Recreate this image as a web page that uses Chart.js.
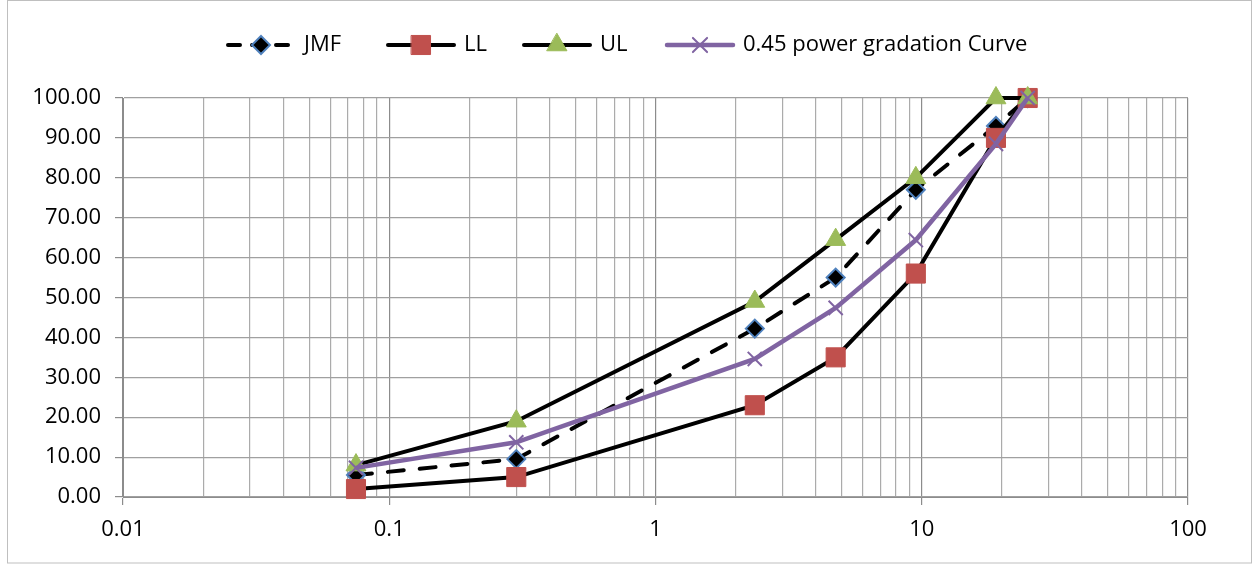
<!DOCTYPE html>
<html>
<head>
<meta charset="utf-8">
<script src="https://cdnjs.cloudflare.com/ajax/libs/Chart.js/4.4.1/chart.umd.min.js"></script>
<style>
  html, body { margin: 0; padding: 0; background: #fff; }
  #wrap { width: 1253px; height: 564px; position: relative; }
</style>
</head>
<body>
<div id="wrap"><canvas id="c"></canvas></div>
<script>
const sieveSizes = [0.075, 0.3, 2.36, 4.75, 9.5, 19, 25];
const jmf = [5.5, 9.5, 42.2, 55, 77, 93, 100];
const lowerLimit = [2, 5, 23, 35, 56, 90, 100];
const upperLimit = [8, 19, 49, 64.5, 80, 100, 100];
const powerCurve = [7.3, 13.7, 34.6, 47.4, 64.4, 88.5, 100];
const seriesNames = ["JMF", "LL", "UL", "0.45 power gradation Curve"];
const xMajorTicks = [0.01, 0.1, 1, 10, 100];
const yTicks = [0, 10, 20, 30, 40, 50, 60, 70, 80, 90, 100];

const FONT = "'Open Sans', 'Noto Sans', sans-serif";
const pts = ys => sieveSizes.map((x, i) => ({ x, y: ys[i] }));

const datasets = [
  { label: seriesNames[0], data: pts(jmf), borderColor: "#000", borderWidth: 4, borderDash: [16, 16],
    borderCapStyle: "round", pointStyle: "rectRot", pointRadius: 9, pointBackgroundColor: "#000",
    pointBorderColor: "#4F81BD", pointBorderWidth: 2, order: 4, clip: false },
  { label: seriesNames[1], data: pts(lowerLimit), borderColor: "#000", borderWidth: 4,
    pointStyle: "rect", pointRadius: 13.5, pointBackgroundColor: "#C0504D",
    pointBorderColor: "#C0504D", pointBorderWidth: 1, order: 3, clip: false },
  { label: seriesNames[2], data: pts(upperLimit), borderColor: "#000", borderWidth: 4,
    pointStyle: "triangle", pointRadius: 11.5, pointBackgroundColor: "#9BBB59",
    pointBorderColor: "#9BBB59", pointBorderWidth: 1, order: 2, clip: false },
  { label: seriesNames[3], data: pts(powerCurve), borderColor: "#8064A2", borderWidth: 4.5,
    pointStyle: "crossRot", pointRadius: 10, pointBackgroundColor: "#8064A2",
    pointBorderColor: "#8064A2", pointBorderWidth: 2, order: 1, clip: false },
];

// log grid: 1..9 x every decade
const allXTicks = [];
xMajorTicks.forEach((m, i) => {
  if (i === xMajorTicks.length - 1) { allXTicks.push(m); return; }
  for (let k = 1; k <= 9; k++) allXTicks.push(Number((m * k).toPrecision(3)));
});
const isMajor = v => xMajorTicks.includes(v);

const legendX = [228, 388, 524, 667];

const frameAndLegend = {
  id: "frameAndLegend",
  afterDraw(chart) {
    const ctx = chart.ctx;
    ctx.save();
    ctx.strokeStyle = "#BFBFBF";
    ctx.lineWidth = 1;
    ctx.strokeRect(7.5, 0.5, 1244, 562.5);
    const y = 45;
    chart.data.datasets.forEach((ds, i) => {
      const x0 = legendX[i], x1 = x0 + 66;
      ctx.beginPath();
      ctx.strokeStyle = ds.borderColor;
      ctx.lineWidth = ds.borderWidth;
      ctx.lineCap = "round";
      ctx.setLineDash(ds.borderDash ? [12, 12] : []);
      ctx.moveTo(x0, y); ctx.lineTo(x1, y); ctx.stroke();
      ctx.setLineDash([]);
      ctx.fillStyle = ds.pointBackgroundColor;
      ctx.strokeStyle = ds.pointBorderColor;
      ctx.lineWidth = ds.pointBorderWidth;
      Chart.helpers.drawPoint(ctx, { pointStyle: ds.pointStyle, radius: ds.pointRadius, borderWidth: ds.pointBorderWidth, rotation: 0 }, (x0 + x1) / 2, y);
      ctx.fillStyle = "#000";
      ctx.font = "22px " + FONT;
      ctx.textBaseline = "middle";
      ctx.textAlign = "left";
      ctx.fillText(ds.label, x1 + 10, y);
    });
    ctx.restore();
  }
};

new Chart(document.getElementById("c"), {
  type: "line",
  data: { datasets },
  plugins: [frameAndLegend],
  options: {
    responsive: true,
    maintainAspectRatio: false,
    animation: false,
    layout: { padding: { left: 0, right: 65, top: 98, bottom: 0 } },
    elements: { line: { tension: 0 } },
    plugins: { legend: { display: false }, tooltip: { enabled: false } },
    scales: {
      x: {
        type: "logarithmic", min: 0.01, max: 100,
        afterBuildTicks: s => { s.ticks = allXTicks.map(v => ({ value: v })); },
        afterFit: s => { s.height = 67; },
        ticks: {
          autoSkip: false, maxRotation: 0, padding: 12, color: "#000",
          font: { family: FONT, size: 22 },
          callback: v => isMajor(v) ? String(v) : "",
        },
        grid: {
          color: c => isMajor(c.tick.value) ? "#8C8C8C" : "#ABABAB",
          tickColor: c => isMajor(c.tick.value) ? "#8C8C8C" : "rgba(0,0,0,0)",
          tickLength: 8, lineWidth: 1.2,
        },
        border: { color: "#8C8C8C" },
      },
      y: {
        min: 0, max: 100,
        afterBuildTicks: s => { s.ticks = yTicks.map(v => ({ value: v })); },
        afterFit: s => { s.width = 123; },
        ticks: { padding: 14, color: "#000", font: { family: FONT, size: 22 }, callback: v => v.toFixed(2) },
        grid: { color: "#A0A0A0", tickColor: "#8C8C8C", tickLength: 8, lineWidth: 1.2 },
        border: { color: "#8C8C8C" },
      },
    },
  },
});
</script>
</body>
</html>
